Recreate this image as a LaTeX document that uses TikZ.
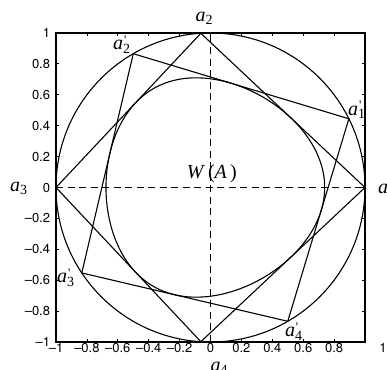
\documentclass[tikz,border=0pt]{standalone}
\usepackage{fontspec}
\setmainfont{Liberation Serif}
\newfontfamily\helv{TeX Gyre Heros}
\newcommand\alab[1]{\textit{a}\textsubscript{#1}}
\newcommand\aplab[1]{\textit{a}\rlap{\kern0.8pt\raisebox{0.62ex}{\fontsize{13}{13}\selectfont\textquotesingle}}\textsubscript{#1}}
\begin{document}
\begin{tikzpicture}[x=154.5pt,y=154.5pt,
  boxline/.style={line width=1.6pt},
  curveline/.style={line width=1.1pt, line join=round},
  dashguide/.style={line width=0.9pt, dash pattern=on 7pt off 4.5pt},
  tickmark/.style={line width=0.8pt},
  ticklab/.style={font=\helv\fontsize{13}{15}\selectfont, inner sep=0pt},
  mlab/.style={font=\fontsize{20}{24}\selectfont, inner sep=0pt, anchor=base west},
  declare function={
    ph(\t)=acos(0.226975*cos(3*\t))/3;
    hh(\t)=0.81968*cos(ph(\t));
    hd(\t)=-0.81968*sin(ph(\t))*0.226975*sin(3*\t)/sqrt(1-(0.226975*cos(3*\t))^2);
    cx(\t)=hh(\t)*cos(\t)-hd(\t)*sin(\t);
    cy(\t)=hh(\t)*sin(\t)+hd(\t)*cos(\t);
  }]
\useasboundingbox (-1.3625,-1.1748) rectangle (1.1424,1.2136);
% vertices
\coordinate (o) at (0,0);
\coordinate (a1) at (0:1);
\coordinate (a2) at (93.5833:1);
\coordinate (a3) at (180:1);
\coordinate (a4) at (-93.5833:1);
\coordinate (b1) at (26.4167:1);
\coordinate (b2) at (120:1);
\coordinate (b3) at (213.5833:1);
\coordinate (b4) at (300:1);
\coordinate (xl) at (-1,0);
\coordinate (xr) at (1,0);
\coordinate (yb) at (0,-1);
\coordinate (yt) at (0,1);
% dashed axes
\draw[dashguide] (xl) -- (xr);
\draw[dashguide] (yb) -- (yt);
% unit circle
\draw[curveline] (o) circle (1);
% quadrilaterals
\draw[curveline] (a1) -- (a2) -- (a3) -- (a4) -- cycle;
\draw[curveline] (b1) -- (b2) -- (b3) -- (b4) -- cycle;
% numerical range boundary
\draw[curveline] plot[domain=0:359, samples=360, smooth cycle, variable=\t] ({cx(\t)},{cy(\t)});
% frame
\draw[boxline] (-1,-1) rectangle (1,1);
\foreach \v in {-0.8,-0.6,-0.4,-0.2,0,0.2,0.4,0.6,0.8}{
  \draw[tickmark] (\v,-1) -- ++(0,0.022);
  \draw[tickmark] (\v,1) -- ++(0,-0.022);
  \draw[tickmark] (-1,\v) -- ++(0.022,0);
  \draw[tickmark] (1,\v) -- ++(-0.022,0);
}
% x tick labels
\foreach \v/\s [count=\i] in {-1/{–1},-0.8/{–0.8},-0.6/{–0.6},-0.4/{–0.4},-0.2/{–0.2},0/0,0.2/0.2,0.4/0.4,0.6/0.6,0.8/0.8,1.1165/1}{
  \node[ticklab, anchor=north] (xt\i) at (\v,-1.0084) {\s};
}
% y tick labels
\foreach \v/\s [count=\i] in {-1/{–1},-0.8/{–0.8},-0.6/{–0.6},-0.4/{–0.4},-0.2/{–0.2},0/0,0.2/0.2,0.4/0.4,0.6/0.6,0.8/0.8,1/1}{
  \node[ticklab, anchor=east] (yt\i) at (-1.037,\v) {\s};
}
% labels
\node[mlab] (la1) at (1.083,-0.042) {\alab{1}};
\node[mlab] (la2) at (-0.098,1.073) {\alab{2}};
\node[mlab] (la3) at (-1.2977,-0.0227) {\alab{3}};
\node[mlab] (la4) at (0.0,-1.188) {\alab{4}};
\node[mlab] (lb1) at (0.890,0.469) {\aplab{1}};
\node[mlab] (lb2) at (-0.631,0.890) {\aplab{2}};
\node[mlab] (lb3) at (-0.9935,-0.618) {\aplab{3}};
\node[mlab] (lb4) at (0.482,-0.9676) {\aplab{4}};
\node[mlab] (wa) at (-0.154,0.0595) {\textit{W}\kern3pt(\textit{A}\kern3pt)};
\end{tikzpicture}
\end{document}
